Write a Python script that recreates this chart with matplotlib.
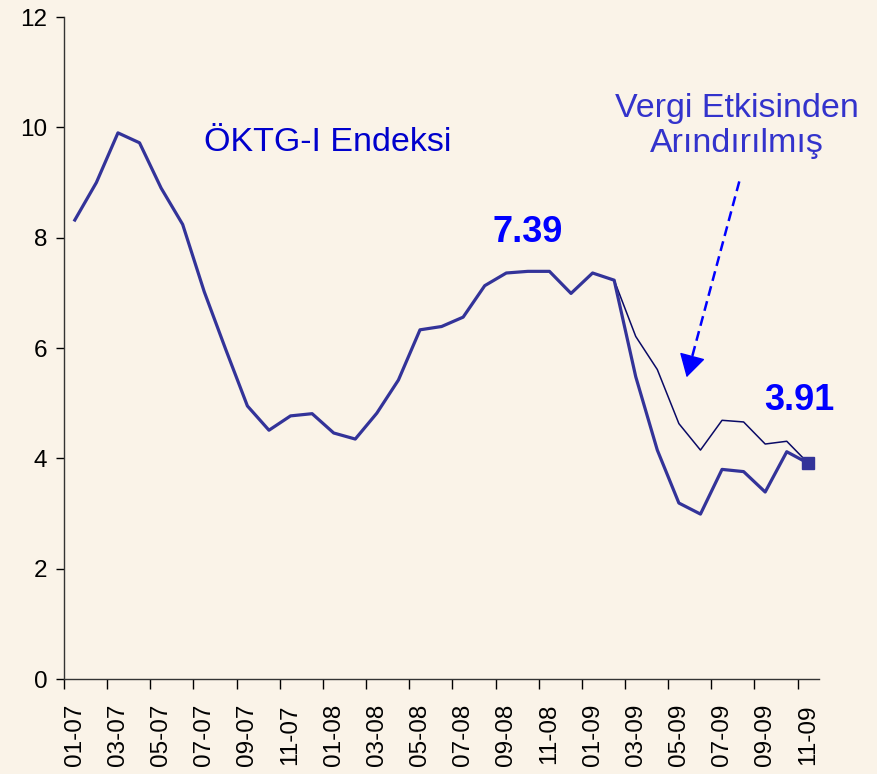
import numpy as np
import matplotlib.pyplot as plt

# monthly index values, 01-07 .. 11-09
months = ["01-07", "02-07", "03-07", "04-07", "05-07", "06-07", "07-07", "08-07", "09-07",
          "10-07", "11-07", "12-07", "01-08", "02-08", "03-08", "04-08", "05-08", "06-08",
          "07-08", "08-08", "09-08", "10-08", "11-08", "12-08", "01-09", "02-09", "03-09",
          "04-09", "05-09", "06-09", "07-09", "08-09", "09-09", "10-09", "11-09"]
oktg = [8.32, 9.00, 9.90, 9.72, 8.90, 8.24, 7.02, 5.97, 4.95, 4.51, 4.77, 4.81, 4.46,
        4.35, 4.82, 5.42, 6.33, 6.39, 6.56, 7.13, 7.36, 7.39, 7.39, 6.99, 7.36, 7.23,
        5.48, 4.15, 3.19, 2.99, 3.80, 3.76, 3.39, 4.12, 3.91]
# tax-adjusted series, only differs from Feb-09 on
vergi = [np.nan] * 25 + [7.23, 6.21, 5.61, 4.63, 4.15, 4.69, 4.66, 4.26, 4.31, 3.91]

bg = "#faf3e8"
x = np.arange(len(months))
fam = ['Liberation Sans', 'DejaVu Sans']
plt.rcParams['font.family'] = fam

fig = plt.figure(figsize=(8.77, 7.74), dpi=100, facecolor=bg)
ax = fig.add_axes([0.073, 0.1227, 0.861, 0.8553], facecolor=bg)

ax.plot(x, vergi, color="#0a0a66", linewidth=1.1)
ax.plot(x, oktg, color="#333399", linewidth=2.3)
ax.plot(x[-1], oktg[-1], marker="s", markersize=8.5, color="#333399")

ax.set_xlim(-0.5, len(months) - 0.5)
ax.set_ylim(0, 12)
ax.set_yticks(np.arange(0, 13, 2))

# labels on every second month, tick marks between categories
ax.set_xticks(x[::2])
ax.set_xticklabels(months[::2], rotation=90, fontsize=17.5)
ax.set_xticks(np.arange(-0.5, len(months) - 1, 2), minor=True)
ax.tick_params(axis="x", which="major", length=0, pad=18)
ax.tick_params(axis="x", which="minor", length=7, width=1, direction="out")
ax.tick_params(axis="y", length=6, width=1, labelsize=17.5, pad=6)

for s in ["top", "right"]:
    ax.spines[s].set_visible(False)
for s in ["left", "bottom"]:
    ax.spines[s].set_color("#333333")
    ax.spines[s].set_linewidth(1)

ax.text(5.98, 9.58, "ÖKTG-I Endeksi", color="#0000cc", fontsize=24.5,
        ha="left", va="baseline")
ax.text(30.67, 10.18, "Vergi Etkisinden", color="#3333cc", fontsize=24.5,
        ha="center", va="baseline")
ax.text(30.7, 9.55, "Arındırılmış", color="#3333cc", fontsize=24.5,
        ha="center", va="baseline")
ax.text(20.99, 7.92, "7.39", color="#0000ff", fontsize=26, fontweight="bold",
        ha="center", va="baseline")
ax.text(33.57, 4.87, "3.91", color="#0000ff", fontsize=26, fontweight="bold",
        ha="center", va="baseline")

# dashed shaft, then a solid head on the last stretch
tip = (28.36, 5.47)
ax.plot([30.8, 28.55], [9.02, 5.75], color="#0000ff", lw=1.8,
        linestyle=(0, (4, 2.2)))
ax.annotate("", xy=tip, xytext=(28.66, 5.91),
            arrowprops=dict(arrowstyle="-|>,head_length=0.38,head_width=0.22",
                            color="#0000ff", lw=1, mutation_scale=38,
                            shrinkA=0, shrinkB=0))

fig.savefig("out.png", dpi=100, facecolor=bg)
